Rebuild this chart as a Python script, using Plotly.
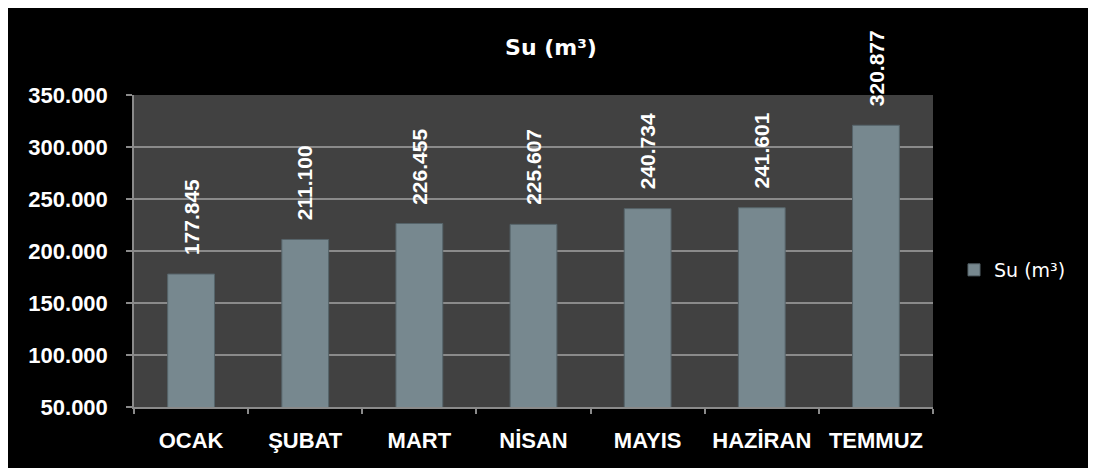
import plotly.graph_objects as go

# Monthly water consumption
MONTHS = ["OCAK", "ŞUBAT", "MART", "NİSAN", "MAYIS", "HAZİRAN", "TEMMUZ"]
WATER = [177845, 211100, 226455, 225607, 240734, 241601, 320877]
Y_TICKS = [50000, 100000, 150000, 200000, 250000, 300000, 350000]
SERIES = "Su (m³)"

# figure is drawn in the page with the default 8px body margin
W, H = 1096, 468
ML, MT = 126, 87
PW, PH = 799, 312
MR, MB = W - ML - PW, H - MT - PH

BLACK = "#000000"
PLOT_BG = "#414141"
GRID = "#8a8a8a"
BAR = "#77888f"
BAR_EDGE = "#56646a"
WHITE = "#ffffff"
FONT = "Liberation Sans"


def fmt(v):
    return f"{v:,}".replace(",", ".")


fig = go.Figure()
fig.add_trace(go.Bar(
    x=MONTHS, y=WATER, name=SERIES,
    marker=dict(color=BAR, line=dict(color=BAR_EDGE, width=1)),
    showlegend=True,
))

# rotated value labels above each bar
annotations = [dict(
    x=m, y=v, text=fmt(v), textangle=-90, showarrow=False,
    xanchor="center", yanchor="bottom", yshift=17,
    font=dict(family=FONT, size=21, color=WHITE, weight="bold"),
) for m, v in zip(MONTHS, WATER)]

px = lambda p: (p - ML) / PW
py = lambda p: (H - MB - p) / PH

fig.update_layout(
    width=W, height=H,
    paper_bgcolor=BLACK, plot_bgcolor=PLOT_BG,
    font=dict(family=FONT, color=WHITE),
    separators=",.",
    title=dict(text=SERIES, x=px(543), xref="paper", xanchor="center", y=1 - 39 / H, yanchor="middle",
               font=dict(family="DejaVu Sans", size=22, color=WHITE, weight="bold")),
    margin=dict(l=ML, r=MR, t=MT, b=MB, autoexpand=False),
    bargap=0.59,
    xaxis=dict(
        showgrid=False, showline=True, linecolor=GRID, linewidth=1.5,
        ticks="outside", tickson="boundaries", ticklen=5, tickcolor=GRID, tickwidth=1.5,
        tickfont=dict(family=FONT, size=22, color=WHITE, weight="bold"),
        ticklabelstandoff=13,
    ),
    yaxis=dict(
        range=[50000, 350000], tickvals=Y_TICKS, tickformat=",d",
        showgrid=True, gridcolor=GRID, gridwidth=1.5,
        showline=True, linecolor=GRID, linewidth=1.5,
        ticks="outside", ticklen=6, tickcolor=GRID, tickwidth=1.5,
        tickfont=dict(family=FONT, size=22, color=WHITE, weight="bold"),
        ticklabelstandoff=14, zeroline=False,
    ),
    legend=dict(x=px(946), y=py(262), xanchor="left", yanchor="middle",
                bgcolor="rgba(0,0,0,0)", font=dict(family="DejaVu Sans", size=19, color=WHITE),
                itemwidth=30),
    annotations=annotations,
)

fig.write_html("out.html")
